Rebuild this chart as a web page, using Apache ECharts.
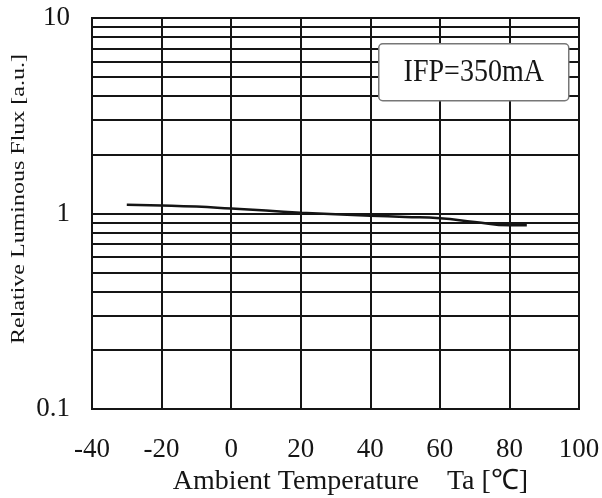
<!DOCTYPE html>
<html>
<head>
<meta charset="utf-8">
<script src="https://cdn.jsdelivr.net/npm/echarts@6/dist/echarts.min.js"></script>
<style>
  html, body { margin: 0; padding: 0; background: #fff; }
  #chart { width: 602px; height: 498px; }
</style>
</head>
<body>
<div id="chart"></div>
<script>
// readings (Ta in degC, relative flux)
var temps = [-30, -20, -10, 0, 10, 20, 30, 40, 50, 60, 70, 80, 85];
var flux = [1.11, 1.10, 1.085, 1.06, 1.035, 1.01, 0.99, 0.975, 0.96, 0.945, 0.905, 0.87, 0.87];
// minor log grid lines
var minorLines = [0.2, 0.3, 0.4, 0.5, 0.6, 0.7, 0.8, 0.9, 2, 3, 4, 5, 6, 7, 8, 9];
var condition = 'IFP=350mA';
var yTitle = 'Relative Luminous Flux [a.u.]';

(function() {
  var serif = '"Liberation Serif", "Times New Roman", serif';
  var ink = '#151515';
  var chart = echarts.init(document.getElementById('chart'), null, { renderer: 'canvas' });

  chart.setOption({
    animation: false,
    backgroundColor: '#fff',
    grid: {
      left: 92, right: 23, top: 18, bottom: 89,
      outerBoundsMode: 'none', containLabel: false,
      show: true, borderColor: ink, borderWidth: 2
    },
    xAxis: {
      type: 'value',
      min: -40,
      max: 100,
      interval: 20,
      name: 'Ambient Temperature    Ta [\u2103]',
      nameLocation: 'middle',
      nameGap: 55,
      nameTextStyle: { color: ink, fontFamily: serif, fontSize: 28, padding: [0, 0, 0, 30] },
      axisLine: { lineStyle: { color: ink, width: 2 } },
      axisTick: { show: false },
      axisLabel: { color: ink, fontFamily: serif, fontSize: 27, margin: 27 },
      splitLine: { show: true, lineStyle: { color: ink, width: 2 } }
    },
    yAxis: {
      type: 'log',
      logBase: 10,
      min: 0.1,
      max: 10,
      axisLine: { lineStyle: { color: ink, width: 2 } },
      axisTick: { show: false },
      axisLabel: { color: ink, fontFamily: serif, fontSize: 27, margin: 22 },
      splitLine: { show: true, lineStyle: { color: ink, width: 2 } }
    },
    graphic: [{
      type: 'text',
      x: 19,
      y: 199,
      rotation: Math.PI / 2,
      scaleY: 0.75,
      style: {
        text: yTitle,
        fill: ink,
        font: '24px ' + serif,
        align: 'center',
        verticalAlign: 'middle'
      }
    }, {
      type: 'group',
      left: 378,
      top: 43,
      z: 100,
      children: [{
        type: 'rect',
        z: 100,
        shape: { x: 0, y: 0, width: 190, height: 57, r: 4 },
        style: { fill: '#fff', stroke: '#777', lineWidth: 1.5 }
      }, {
        type: 'text',
        z: 101,
        x: 95,
        y: 29,
        scaleY: 1.15,
        style: {
          text: condition,
          fill: ink,
          font: '28px ' + serif,
          align: 'center',
          verticalAlign: 'middle'
        }
      }]
    }],
    series: [{
      type: 'line',
      data: temps.map(function(t, i) { return [t, flux[i]]; }),
      showSymbol: false,
      smooth: true,
      lineStyle: { color: ink, width: 2.5 },
      z: 3,
      markLine: {
        silent: true,
        symbol: 'none',
        label: { show: false },
        lineStyle: { color: ink, width: 2, type: 'solid' },
        data: minorLines.map(function(v) { return { yAxis: v }; })
      }
    }]
  });
  window.addEventListener('resize', function() { chart.resize(); });
})();
</script>
</body>
</html>
